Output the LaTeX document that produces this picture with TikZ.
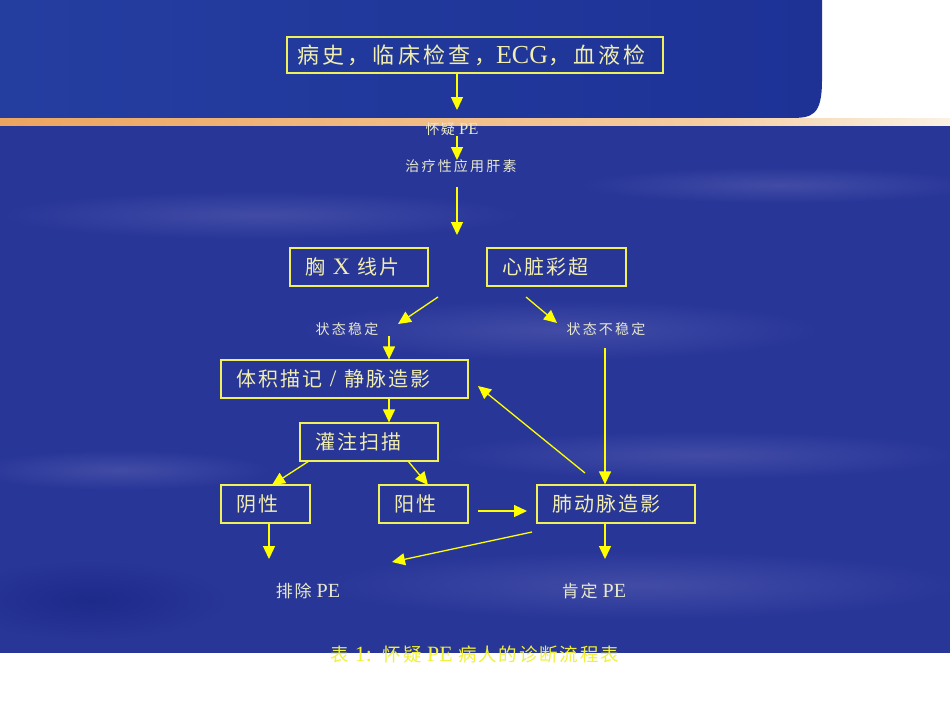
\documentclass[tikz,border=0pt]{standalone}
\usepackage{fontspec}
\setmainfont[Scale=1.18]{Liberation Serif}
\newfontfamily\cjk[LetterSpace=10]{Noto Sans CJK SC}
\newfontfamily\cjkw[LetterSpace=15]{Noto Sans CJK SC}
\newfontfamily\cjks[LetterSpace=16]{Noto Sans CJK SC}
\newcommand\zhtxt[1]{{\cjk #1}}
\newcommand\zhwide[1]{{\cjkw #1}}
\newcommand\zhsmall[1]{{\cjks #1}}
\usetikzlibrary{arrows.meta}
\definecolor{bgblue}{RGB}{40,54,152}
\definecolor{topblue}{RGB}{36,62,160}
\definecolor{topblueR}{RGB}{30,50,150}
\definecolor{streak}{RGB}{66,76,166}
\definecolor{streakd}{RGB}{30,42,138}
\definecolor{bandor}{RGB}{236,165,95}
\definecolor{bandmid}{RGB}{245,205,160}
\definecolor{bandcream}{RGB}{250,242,228}
\definecolor{arryellow}{RGB}{255,255,0}
\definecolor{boxyellow}{RGB}{240,240,90}
\definecolor{boxtext}{RGB}{242,238,175}
\definecolor{labeltext}{RGB}{232,232,205}
\definecolor{captext}{RGB}{240,240,55}
\tikzset{
  box/.style={draw=boxyellow, line width=1.3pt, inner ysep=0pt, inner xsep=15pt,
    minimum height=38pt, align=left, text=boxtext,
    font=\fontsize{20}{24}\selectfont},
  lbl/.style={inner sep=0pt, text=labeltext, font=\fontsize{14}{16}\selectfont},
  arr/.style={draw=arryellow, line width=1.3pt, -{Triangle[length=13pt,width=12pt]}},
}
\begin{document}
\begin{tikzpicture}[x=1pt,y=-1pt]
\useasboundingbox (0,0) rectangle (950,713);
% background
\fill[white] (0,0) rectangle (950,713);
\fill[bgblue] (0,126) rectangle (950,653);
\shade[inner color=streak, outer color=bgblue] (260,215) ellipse (260 and 24);
\shade[inner color=streak, outer color=bgblue] (700,455) ellipse (260 and 24);
\shade[inner color=streak, outer color=bgblue] (640,585) ellipse (320 and 34);
\shade[inner color=streak, outer color=bgblue] (780,185) ellipse (200 and 18);
\shade[inner color=streak, outer color=bgblue] (120,470) ellipse (150 and 20);
\shade[inner color=streak, outer color=bgblue] (560,330) ellipse (260 and 30);
\shade[inner color=streakd, outer color=bgblue] (90,600) ellipse (140 and 40);
\shade[left color=topblue, right color=topblueR]
  (0,0) -- (822,0) -- (822,80) .. controls (822,116) and (812,118) .. (790,118) -- (0,118) -- cycle;
\shade[left color=bandor, right color=bandmid] (0,118) rectangle (700,125);
\shade[left color=bandmid, right color=bandcream] (700,118) rectangle (950,125);
% nodes
\node[box, text width=356pt, inner xsep=10pt, minimum height=36pt, font=\fontsize{22}{26}\selectfont]
  (hist) at (475,55) {\zhwide{病史，临床检查，}ECG\zhwide{，血液检}};
\node[lbl] (susp) at (452,129) {\zhtxt{怀疑} PE};
\node[lbl] (hep) at (461,166) {\zhsmall{治疗性应用肝素}};
\node[box, text width=108pt] (xray) at (359,267) {\zhtxt{胸} X \zhtxt{线片}};
\node[box, text width=109pt] (echo) at (556.5,267) {\zhtxt{心脏彩超}};
\node[lbl] (stable) at (347,329) {\zhsmall{状态稳定}};
\node[lbl] (unstable) at (606,329) {\zhsmall{状态不稳定}};
\node[box, text width=217pt] (pleth) at (344.5,379) {\zhtxt{体积描记} / \zhtxt{静脉造影}};
\node[box, text width=108pt] (perf) at (369,442) {\zhtxt{灌注扫描}};
\node[box, text width=59pt] (neg) at (265.5,504) {\zhtxt{阴性}};
\node[box, text width=59pt] (pos) at (423.5,504) {\zhtxt{阳性}};
\node[box, text width=128pt] (cta) at (616,504) {\zhtxt{肺动脉造影}};
\node[lbl, font=\fontsize{17}{19}\selectfont] (excl) at (308,591) {\zhtxt{排除} PE};
\node[lbl, font=\fontsize{17}{19}\selectfont] (conf) at (594,591) {\zhtxt{肯定} PE};
\node[inner sep=0pt, text=captext, font=\fontsize{18.5}{20}\selectfont] (cap) at (475,654)
  {\zhtxt{表} 1:\ \ \zhtxt{怀疑} PE \zhtxt{病人的诊断流程表}};
% free ends of connectors
\coordinate (a1e) at (457,110);
\coordinate (a2s) at (457,136); \coordinate (a2e) at (457,160);
\coordinate (a3s) at (457,187); \coordinate (a3e) at (457,235);
\coordinate (a4s) at (438,297); \coordinate (a4e) at (398,324);
\coordinate (a5s) at (526,297); \coordinate (a5e) at (557,323);
\coordinate (a6s) at (389,336);
\coordinate (a7x) at (389,0);
\coordinate (a8s) at (309,461); \coordinate (a8e) at (272,485);
\coordinate (a9s) at (408,461); \coordinate (a9e) at (428,485);
\coordinate (a10s) at (478,511); \coordinate (a10e) at (527,511);
\coordinate (a11s) at (585,473); \coordinate (a11e) at (478,386);
\coordinate (a12s) at (605,348);
\coordinate (a13e) at (269,559);
\coordinate (a14s) at (532,532); \coordinate (a14e) at (392,562);
\coordinate (a15e) at (605,559);
% connectors
\draw[arr] (hist.south -| a1e) -- (a1e);
\draw[arr] (a2s) -- (a2e);
\draw[arr] (a3s) -- (a3e);
\draw[arr] (a4s) -- (a4e);
\draw[arr] (a5s) -- (a5e);
\draw[arr] (a6s) -- (a6s |- pleth.north);
\draw[arr] (pleth.south -| a7x) -- (perf.north -| a7x);
\draw[arr] (a8s) -- (a8e);
\draw[arr] (a9s) -- (a9e);
\draw[arr] (a10s) -- (a10e);
\draw[arr] (a11s) -- (a11e);
\draw[arr] (a12s) -- (a12s |- cta.north);
\draw[arr] (neg.south -| a13e) -- (a13e);
\draw[arr] (a14s) -- (a14e);
\draw[arr] (cta.south -| a15e) -- (a15e);
\end{tikzpicture}
\end{document}
